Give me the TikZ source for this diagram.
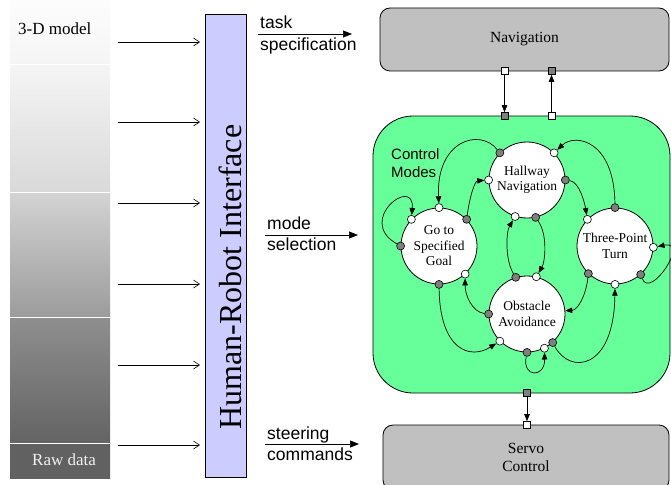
\documentclass[tikz,border=0pt]{standalone}
\usepackage{fontspec}
\setmainfont{Liberation Serif}
\setsansfont{Liberation Sans}
\usetikzlibrary{arrows.meta}
\definecolor{boxgray}{HTML}{C0C0C0}
\definecolor{dotgray}{HTML}{7F7F7F}
\definecolor{hrifill}{HTML}{CCCCFF}
\definecolor{modegreen}{HTML}{66FF99}
\definecolor{rawtext}{HTML}{F0F0F0}
\tikzset{
    layer/.style={draw, rounded corners=10pt, fill=boxgray, line width=0.8pt},
    modecirc/.style={draw, circle, fill=white, minimum size=76pt, inner sep=0pt, line width=0.8pt,
        align=center, font=\fontsize{13.5}{15.5}\selectfont},
    outdot/.style={draw, circle, fill=dotgray, minimum size=8pt, inner sep=0pt, line width=0.6pt},
    indot/.style={outdot, fill=white},
    outsq/.style={draw, rectangle, fill=dotgray, minimum size=7pt, inner sep=0pt, line width=0.6pt},
    insq/.style={outsq, fill=white},
    trans/.style={-{Triangle[length=7pt,width=5.5pt]}, line width=0.7pt},
    feed/.style={-{Straight Barb[length=6pt,width=8pt]}, line width=0.6pt},
    cmd/.style={-{Triangle[length=9pt,width=7pt]}, line width=0.7pt},
    lbl/.style={anchor=base west, inner sep=0pt, font=\sffamily\fontsize{17.5}{20}\selectfont},
    lvl/.style={anchor=base west, inner sep=0pt, font=\fontsize{17}{20}\selectfont},
}

\begin{document}
\begin{tikzpicture}[x=1pt, y=-1pt]
    \useasboundingbox (0,0) rectangle (671,484);
    % data levels
    \foreach \ya/\yb/\ca/\cb in {0/65/99/96, 65/192/96/85, 192/317/83/61, 317/443/56/39, 443/478/38/38}
        \shade[top color=white!\ca!black, bottom color=white!\cb!black] (10,\ya) rectangle (110,\yb);
    \foreach \y in {65,192,317,443}
        \draw[white, line width=1pt] (10,\y) -- (110,\y);
    \node[lvl] (model) at (18,35) {3-D model};
    \node[lvl, text=rawtext] (raw) at (32,465) {Raw data};

    \node[draw, fill=hrifill, minimum width=41pt, minimum height=463pt, line width=0.7pt] (hri) at (225.5,245.5) {};
    \node[rotate=90, inner sep=0pt, font=\fontsize{32}{32}\selectfont] (hritext) at (230,277) {Human-Robot Interface};
    \foreach \y [count=\i] in {42,122,203,284,365,445} {
        \coordinate (src\i) at (118,\y);
        \coordinate (dst\i) at (200,\y);
        \draw[feed] (src\i) -- (dst\i);
    }

    \node[lbl] (task) at (260,29) {task};
    \node[lbl] (spec) at (260,50.5) {specification};
    \coordinate (taskA) at (258,34);
    \coordinate (taskB) at (352,34);
    \draw[cmd] (taskA) -- (taskB);
    \node[lbl] (mode) at (267,229) {mode};
    \node[lbl] (sel) at (267,250.5) {selection};
    \coordinate (modeA) at (265,235);
    \coordinate (modeB) at (358,235);
    \draw[cmd] (modeA) -- (modeB);
    \node[lbl] (steer) at (267,439) {steering};
    \node[lbl] (comm) at (267,460.5) {commands};
    \coordinate (steerA) at (265,444);
    \coordinate (steerB) at (359,444);
    \draw[cmd] (steerA) -- (steerB);

    % layers
    \node[layer, minimum width=289pt, minimum height=63pt, font=\fontsize{15.5}{17.5}\selectfont] (nav) at (524.5,39.5) {Navigation};
    \node[draw, fill=modegreen, rounded corners=40pt, minimum width=297pt, minimum height=277pt, line width=0.8pt] (modes) at (521.5,254.5) {};
    \node[layer, minimum width=286pt, minimum height=65pt, align=center, font=\fontsize{15.5}{17.5}\selectfont] (servo) at (526,457.5) {Servo\\Control};
    \node[anchor=base west, inner sep=0pt, font=\sffamily\fontsize{15}{18}\selectfont] (ctl) at (391,159) {Control};
    \node[anchor=base west, inner sep=0pt, font=\sffamily\fontsize{15}{18}\selectfont] (mds) at (391,177) {Modes};

    \node[insq] (n1) at (504.5,71) {};
    \node[outsq] (n2) at (551.5,71) {};
    \node[outsq] (m1) at (504.5,116) {};
    \node[insq] (m2) at (551.5,116) {};
    \node[outsq] (m3) at (527,393) {};
    \node[insq] (s1) at (527,425) {};
    \draw[trans] (n1) -- (m1);
    \draw[trans] (m2) -- (n2);
    \draw[trans] (m3) -- (s1);

    % control modes
    \node[modecirc] (hall) at (527,180) {Hallway\\Navigation};
    \node[modecirc] (goal) at (439,246) {Go to\\Specified\\Goal};
    \node[modecirc] (turn) at (615,246) {Three-Point\\Turn};
    \node[modecirc] (obst) at (527,314) {Obstacle\\Avoidance};

    \node[outdot] (h1) at (hall.135) {};
    \node[indot] (h2) at (hall.45) {};
    \node[indot] (h3) at (hall.180) {};
    \node[outdot] (h4) at (hall.0) {};
    \node[indot] (h5) at (hall.-108) {};
    \node[outdot] (h6) at (hall.-77) {};
    \node[indot] (g1) at (goal.90) {};
    \node[indot] (g2) at (goal.136) {};
    \node[outdot] (g3) at (goal.44) {};
    \node[outdot] (g4) at (goal.180) {};
    \node[indot] (g5) at (goal.-47) {};
    \node[outdot] (g6) at (goal.-90) {};
    \node[outdot] (t1) at (turn.90) {};
    \node[indot] (t2) at (turn.136) {};
    \node[indot] (t3) at (turn.-2) {};
    \node[outdot] (t4) at (turn.-134) {};
    \node[indot] (t5) at (turn.-90) {};
    \node[outdot] (t6) at (turn.-48) {};
    \node[outdot] (o1) at (obst.107) {};
    \node[indot] (o2) at (obst.76) {};
    \node[outdot] (o3) at (obst.180) {};
    \node[indot] (o4) at (obst.-135) {};
    \node[outdot] (o5) at (obst.-90) {};
    \node[indot] (o6) at (obst.-63) {};
    \node[outdot] (o7) at (obst.-48) {};

    \draw[trans] (h1) .. controls (480,128) and (436,140) .. (g1);
    \draw[trans] (g3) .. controls (470,195) and (475,181) .. (h3);
    \draw[trans] (h4) .. controls (580,182) and (585,205) .. (t2);
    \draw[trans] (t1) .. controls (614,140) and (575,133) .. (h2);
    \draw[trans] (h6) .. controls (548,235) and (545,262) .. (o2);
    \draw[trans] (o1) .. controls (505,260) and (506,232) .. (h5);
    \draw[trans] (g4) .. controls (355,220) and (415,175) .. (g2);
    \draw[trans] (g6) .. controls (440,350) and (470,360) .. (o4);
    \draw[trans] (o3) .. controls (472,312) and (465,295) .. (g5);
    \draw[trans] (t4) .. controls (586,295) and (578,310) .. (obst.5);
    \draw[trans] (o7) .. controls (570,375) and (614,370) .. (t5);
    \draw[trans] (t6) .. controls (650,300) and (690,240) .. (t3);
    \draw[trans] (o5) .. controls (522,378) and (545,378) .. (o6);
\end{tikzpicture}
\end{document}
